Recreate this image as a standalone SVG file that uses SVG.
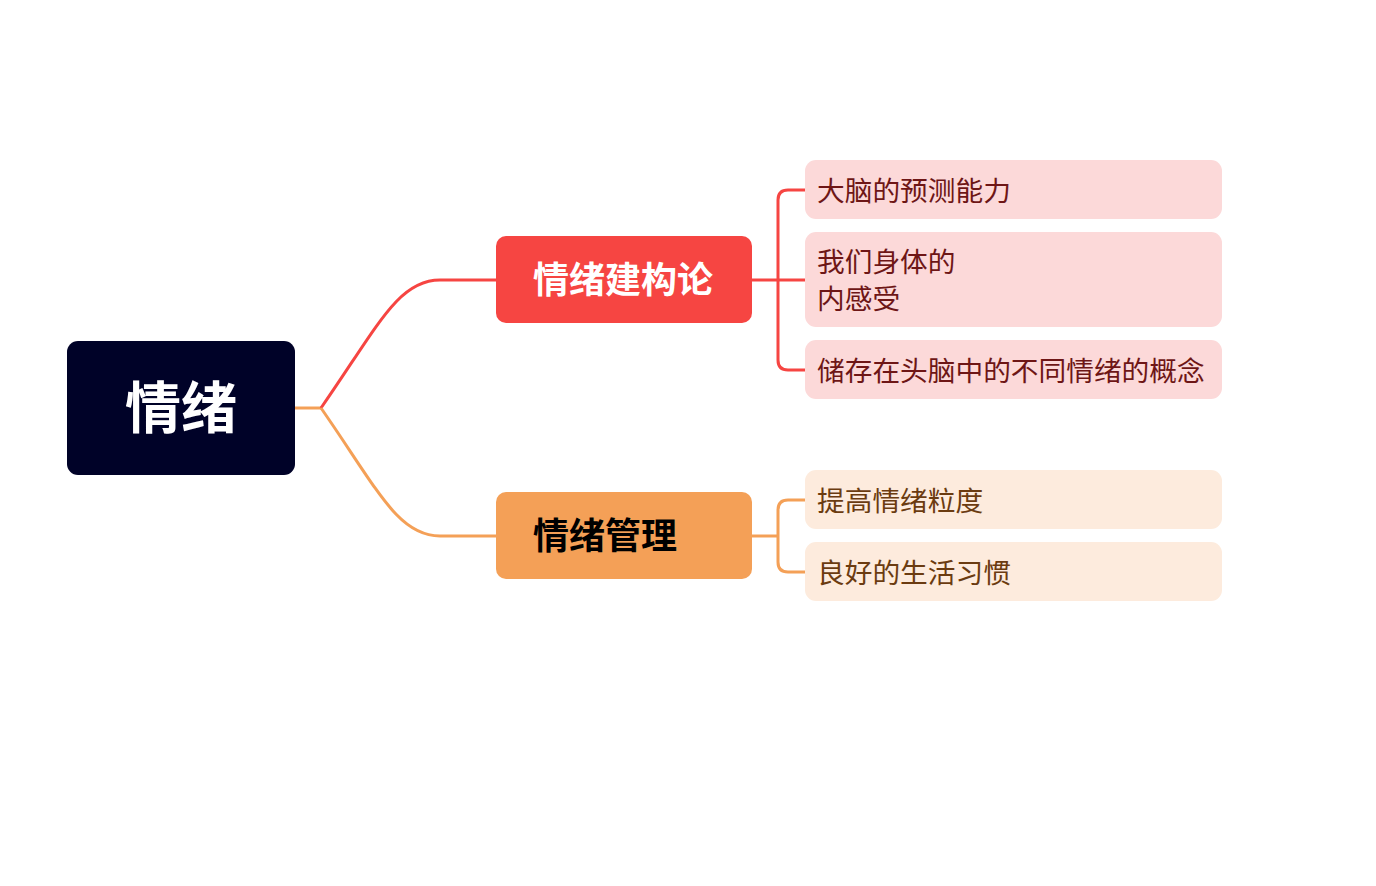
<svg xmlns="http://www.w3.org/2000/svg" width="1376" height="886" viewBox="0 0 1376 886">
<style>
.t{font-family:"Noto Sans CJK SC","Noto Sans",sans-serif}
.b{font-weight:bold}
.conn{fill:none;stroke-width:3}
.red{stroke:#f64542}
.org{stroke:#f4a057}
.rc{fill:#fcd9d9}
.oc{fill:#fdebdd}
.rt{fill:#6e1616;font-size:27.7px}
.ot{fill:#6b3b10;font-size:27.7px}
</style>
<rect width="1376" height="886" fill="#ffffff"/>
<g id="connectors">
<path class="conn org" d="M295,408 L321,408"/>
<path class="conn red" d="M321,408 C378,326 398,280 440,280 L496,280"/>
<path class="conn org" d="M321,408 C378,490 398,536 440,536 L496,536"/>
<path class="conn red" d="M752,280 L806,280"/>
<path class="conn red" d="M806,190 L788,190 Q778,190 778,200 L778,360 Q778,370 788,370 L806,370"/>
<path class="conn org" d="M752,536 L778,536"/>
<path class="conn org" d="M806,500 L788,500 Q778,500 778,510 L778,562 Q778,572 788,572 L806,572"/>
</g>
<g id="root">
<rect x="67" y="341" width="228" height="134" rx="11" fill="#000228"/>
<text class="t b" x="181" y="428" font-size="56" fill="#ffffff" text-anchor="middle">情绪</text>
</g>
<g id="n1">
<rect x="496" y="236" width="256" height="87" rx="10" fill="#f64542"/>
<text class="t b" x="533" y="293" font-size="36" fill="#ffffff">情绪建构论</text>
</g>
<g id="n2">
<rect x="496" y="492" width="256" height="87" rx="10" fill="#f4a057"/>
<text class="t b" x="533" y="549" font-size="36" fill="#000000">情绪管理</text>
</g>
<g id="n1a">
<rect class="rc" x="805" y="160" width="417" height="59" rx="11"/>
<text class="t rt" x="817" y="201">大脑的预测能力</text>
</g>
<g id="n1b">
<rect class="rc" x="805" y="232" width="417" height="95" rx="11"/>
<text class="t rt" x="817" y="272">我们身体的</text>
<text class="t rt" x="817" y="309">内感受</text>
</g>
<g id="n1c">
<rect class="rc" x="805" y="340" width="417" height="59" rx="11"/>
<text class="t rt" x="817" y="381">储存在头脑中的不同情绪的概念</text>
</g>
<g id="n2a">
<rect class="oc" x="805" y="470" width="417" height="59" rx="11"/>
<text class="t ot" x="817" y="511">提高情绪粒度</text>
</g>
<g id="n2b">
<rect class="oc" x="805" y="542" width="417" height="59" rx="11"/>
<text class="t ot" x="817" y="583">良好的生活习惯</text>
</g>
</svg>
